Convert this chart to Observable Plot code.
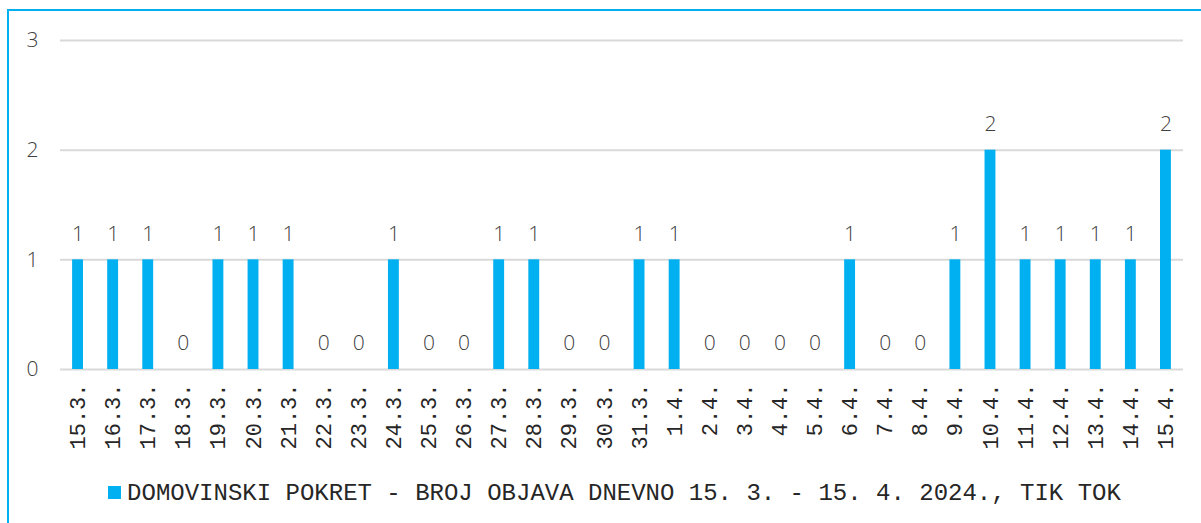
<!DOCTYPE html>
<html>
<head>
<meta charset="utf-8">
<script src="https://cdn.jsdelivr.net/npm/d3@7"></script>
<script src="https://cdn.jsdelivr.net/npm/@observablehq/plot@0.6"></script>
<style>
  html, body { margin: 0; padding: 0; background: #fff; overflow: hidden; }
  #frame { position: absolute; left: 7px; top: 9px; width: 1300px; height: 600px; border: 2px solid #00B0F0; box-sizing: border-box; pointer-events: none; }
  #chart { position: absolute; left: 0; top: 0; }
  #legend { position: absolute; left: 14px; top: 480px; width: 1201px; text-align: center; font-family: "Liberation Mono", monospace; font-size: 24px; color: #262626; white-space: nowrap; }
  #legend .sw { display: inline-block; width: 13px; height: 13px; background: #00B0F0; margin-right: 6px; vertical-align: 1px; }
</style>
</head>
<body>
<div id="chart"></div>
<div id="legend"><span class="sw"></span><span id="legendText"></span></div>
<div id="frame"></div>
<script>
const dates = ["15.3.","16.3.","17.3.","18.3.","19.3.","20.3.","21.3.","22.3.","23.3.","24.3.","25.3.","26.3.","27.3.","28.3.","29.3.","30.3.","31.3.","1.4.","2.4.","3.4.","4.4.","5.4.","6.4.","7.4.","8.4.","9.4.","10.4.","11.4.","12.4.","13.4.","14.4.","15.4."];
const posts = [1,1,1,0,1,1,1,0,0,1,0,0,1,1,0,0,1,1,0,0,0,0,1,0,0,1,2,1,1,1,1,2];
const yTicks = [0,1,2,3];
const seriesName = "DOMOVINSKI POKRET - BROJ OBJAVA DNEVNO 15. 3. - 15. 4. 2024., TIK TOK";

const data = dates.map((d, i) => ({date: d, value: posts[i]}));
const color = "#00B0F0";

const chart = Plot.plot({
  width: 1201,
  height: 470,
  marginLeft: 60,
  marginRight: 18,
  marginTop: 40,
  marginBottom: 101,
  style: {background: "transparent", overflow: "visible"},
  x: {domain: dates, paddingInner: 0.69, paddingOuter: 0.345, round: false, label: null},
  y: {domain: [0, 3], label: null},
  marks: [
    Plot.ruleY(yTicks, {stroke: "#d9d9d9", strokeWidth: 2}),
    Plot.barY(data, {x: "date", y: "value", fill: color}),
    Plot.text(data, {x: "date", y: "value", text: d => String(d.value), dy: -26, fontSize: 21, fill: "#404040", fontFamily: "Open Sans", fontWeight: 300}),
    Plot.axisY({ticks: yTicks, tickSize: 0, tickPadding: 22, fontSize: 21, fontFamily: "Open Sans", fontWeight: 300, color: "#404040", label: null, tickFormat: d => String(d)}),
    Plot.axisX({tickSize: 0, tickPadding: 14, tickRotate: -90, fontSize: 22, fontFamily: "Liberation Mono", color: "#262626", label: null})
  ]
});
document.getElementById("chart").appendChild(chart);
document.getElementById("legendText").textContent = seriesName;
</script>
</body>
</html>
